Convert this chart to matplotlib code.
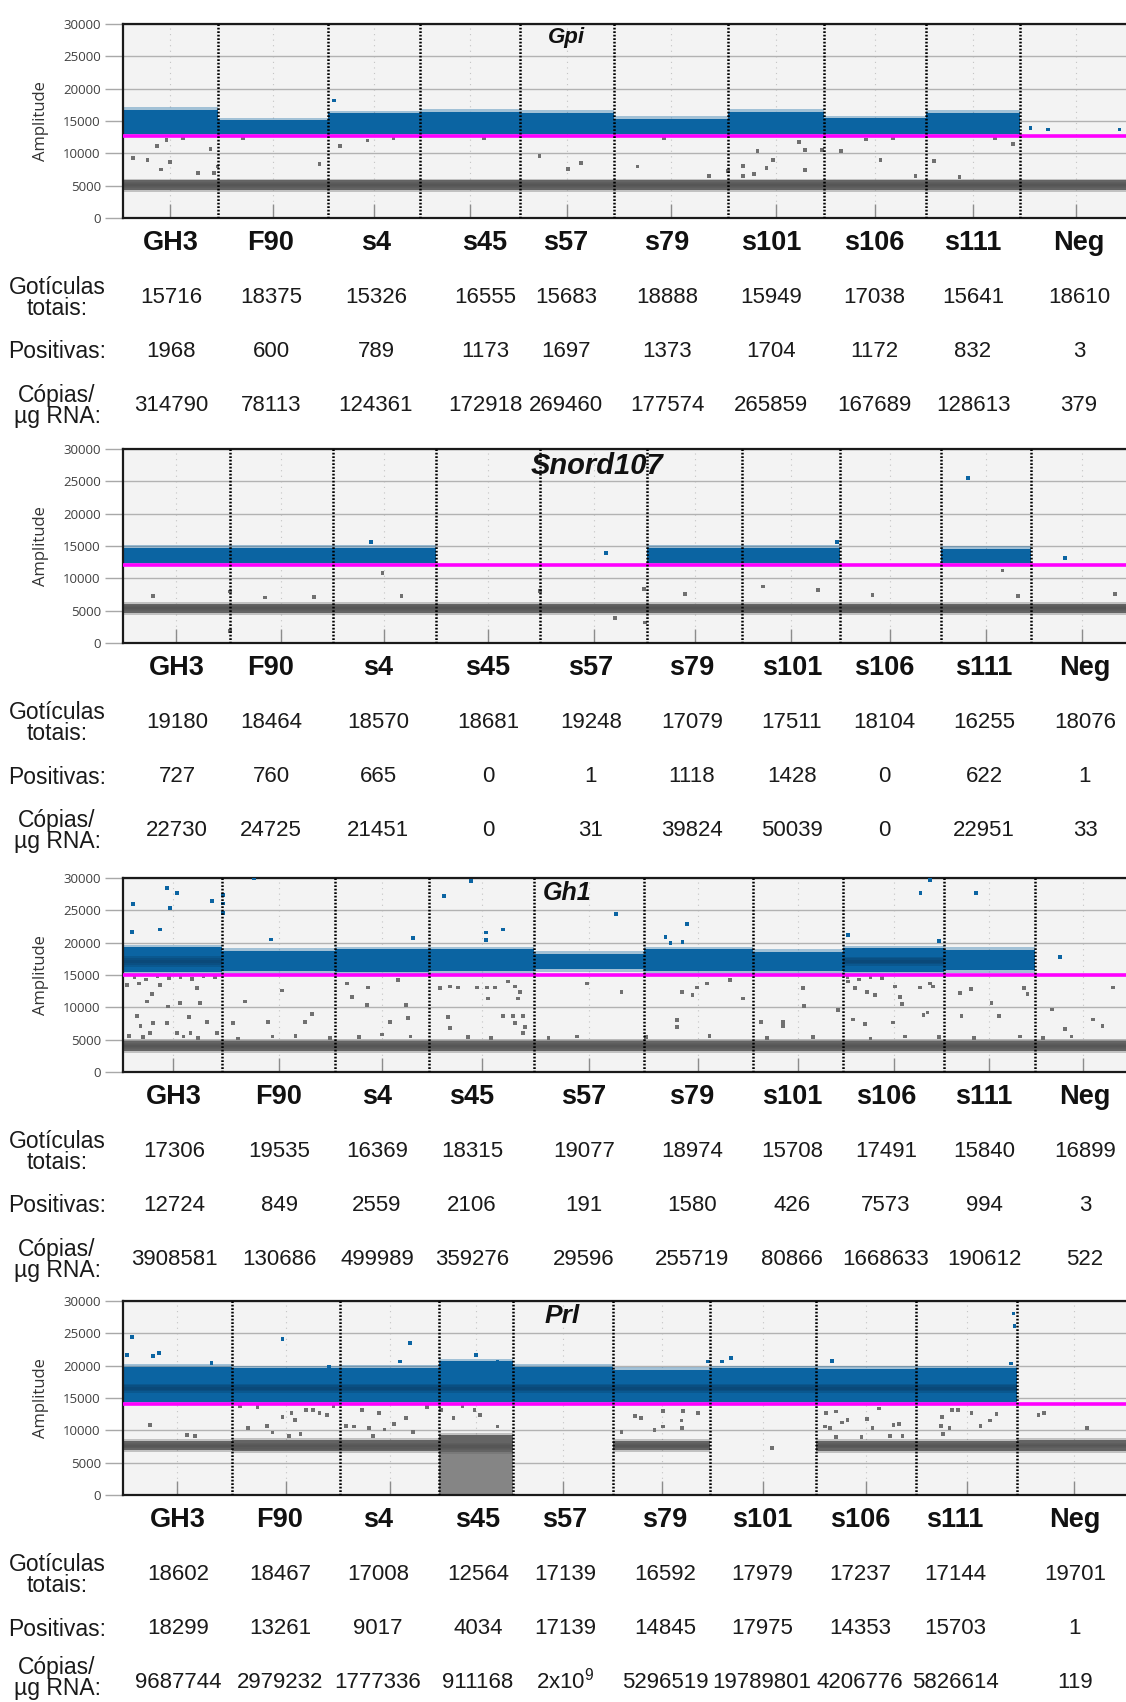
import numpy as np
import matplotlib
matplotlib.use("Agg")
import matplotlib.pyplot as plt

# ---------------------------------------------------------------------------
# ddPCR 1D amplitude plots + droplet counts for four assays
# ---------------------------------------------------------------------------
wells = ["GH3", "F90", "s4", "s45", "s57", "s79", "s101", "s106", "s111", "Neg"]

# ---- Gpi -------------------------------------------------------------------
gpi_total = [15716, 18375, 15326, 16555, 15683, 18888, 15949, 17038, 15641, 18610]
gpi_positive = [1968, 600, 789, 1173, 1697, 1373, 1704, 1172, 832, 3]
gpi_copies = [314790, 78113, 124361, 172918, 269460, 177574, 265859, 167689, 128613, 379]
gpi_threshold = 12700
gpi_pos_low = [13000, 13000, 13000, 13000, 13000, 13000, 13000, 13000, 13000, None]
gpi_pos_high = [16700, 15100, 16200, 16400, 16300, 15300, 16400, 15400, 16300, None]
gpi_pos_core = [None] * 10
gpi_neg_low = [4300] * 10
gpi_neg_high = [5800] * 10
gpi_neg_core = [(4600, 5500)] * 10
gpi_smear = [None] * 10
gpi_out_event = [1690, 4050, 5640, 6280, 7870, 7230, 12510, 14550, 15180, 15690, 32690,
                 36050, 40640, 69270, 74040, 76140, 85530, 97390, 100630, 103070, 103070,
                 104900, 105520, 107030, 108140, 112400, 113450, 113450, 116210, 119380,
                 123540, 125970, 131770, 134830, 139100, 147970, 10000, 20000, 45000,
                 60000, 90000, 128000, 145000, 35040, 150900, 153780, 165690]
gpi_out_amp = [9230, 8970, 11130, 7520, 8710, 12060, 7010, 10620, 7010, 7940, 8350,
               11130, 11960, 9590, 7570, 8500, 7940, 6500, 7320, 8040, 6500,
               6800, 10410, 7680, 8970, 11800, 10510, 7420, 10510, 10410,
               12160, 8970, 6500, 8810, 6290, 11400, 12300, 12400, 12350,
               12400, 12300, 12400, 12300, 18170, 13960, 13700, 13700]

# ---- Snord107 --------------------------------------------------------------
snord_total = [19180, 18464, 18570, 18681, 19248, 17079, 17511, 18104, 16255, 18076]
snord_positive = [727, 760, 665, 0, 1, 1118, 1428, 0, 622, 1]
snord_copies = [22730, 24725, 21451, 0, 31, 39824, 50039, 0, 22951, 33]
snord_threshold = 12000
snord_pos_low = [12400, 12400, 12400, None, None, 12400, 12400, None, 12400, None]
snord_pos_high = [14700, 14700, 14700, None, None, 14700, 14700, None, 14600, None]
snord_pos_core = [None] * 10
snord_neg_low = [4700] * 10
snord_neg_high = [6100] * 10
snord_neg_core = [(5000, 5800)] * 10
snord_smear = [None] * 10
snord_out_event = [46620, 5440, 19210, 19210, 25490, 34290, 50030, 74870, 88330, 93540,
                   93720, 100900, 114950, 124830, 134600, 157930, 160730, 178100,
                   86710, 169120, 44470, 151760, 128240]
snord_out_amp = [10780, 7270, 7940, 1900, 7060, 7110, 7270, 8090, 3820, 8300,
                 3150, 7580, 8730, 8190, 7420, 11190, 7270, 7580,
                 13870, 13100, 15670, 25470, 15670]

# ---- Gh1 -------------------------------------------------------------------
gh1_total = [17306, 19535, 16369, 18315, 19077, 18974, 15708, 17491, 15840, 16899]
gh1_positive = [12724, 849, 2559, 2106, 191, 1580, 426, 7573, 994, 3]
gh1_copies = [3908581, 130686, 499989, 359276, 29596, 255719, 80866, 1668633, 190612, 522]
gh1_threshold = 15000
gh1_pos_low = [15400, 15600, 15500, 15600, 15900, 15600, 15600, 15400, 15700, None]
gh1_pos_high = [19300, 18700, 19000, 19000, 18300, 19000, 18600, 19100, 18900, None]
gh1_pos_core = [(16300, 17900), None, None, None, None, None, None, (16400, 17800), None, None]
gh1_neg_low = [3300] * 10
gh1_neg_high = [4800] * 10
gh1_neg_core = [(3600, 4500)] * 10
gh1_smear = [None] * 10
gh1_out_event = [1690, 7600, 9450, 8180, 1620, 6440, 15430, 17340, 17340, 17340, 22780,
                 55840, 60480, 63090, 63090, 66050, 50500, 25690, 85750, 98150, 94370,
                 95240, 97330, 138740, 140360, 148360, 126160, 162990, 141990,
                 750, 2840, 4990, 6440, 4120, 7880, 9910, 13390, 12820, 2380, 5270,
                 11530, 14560, 7600, 3060, 4700, 9450, 11760, 16300, 19190, 21220,
                 27600, 25270, 31660, 32820, 38910, 42670, 39780, 42390, 47890, 49230,
                 46440, 49630, 55140, 56880, 58320, 61520, 63260, 64710, 63540, 68760,
                 67020, 68180, 69050, 56570, 66050, 67890, 69630, 68180, 56880, 69920,
                 69630, 80760, 86740, 97180, 99090, 99890, 101530, 105580, 107790,
                 96310, 96310, 118230, 118460, 114750, 114750, 111010, 124420, 126160,
                 127330, 129360, 130810, 127040, 134280, 135150, 135450, 138640, 140370,
                 140840, 139230, 139930, 133990, 129070, 145590, 147450, 145880, 152430,
                 151100, 156730, 157310, 161550, 172260, 168780, 170410, 163850,
                 2000, 4000, 6000, 8000, 10000, 12000, 14000, 16000, 126000, 128000,
                 130000, 132000,
                 1000, 3500, 10500, 13000, 20000, 26000, 30000, 36000, 41000, 45000,
                 50000, 60000, 64000, 74000, 79000, 91000, 102000, 112000, 120000,
                 130000, 136000, 142000, 148000, 156000, 160000, 165000]
gh1_out_amp = [25980, 28410, 27630, 25310, 21700, 22060, 26490, 27370, 26080, 24540, 29900,
               27210, 29580, 21550, 20410, 22060, 20670, 20510, 24430, 22890, 20920,
               19990, 20150, 27730, 29690, 27630, 21190, 17740, 20300,
               13450, 13710, 12060, 13450, 10880, 10110, 10620, 10620, 12940, 8660, 7530,
               8550, 7780, 7530, 7110, 6080, 6080, 6080, 5980, 7530, 10880,
               12580, 7780, 7780, 8970, 13710, 13090, 11640, 10360, 14230, 10360,
               7780, 8300, 12940, 13210, 13090, 13090, 13090, 13090, 11380, 11380,
               13970, 13210, 12420, 8550, 8660, 8660, 8660, 7530, 6760, 7010,
               5980, 13710, 12420, 12420, 11910, 13090, 13710, 14230, 11380,
               8040, 7010, 12940, 10210, 7780, 7110, 7780, 9590, 13970,
               12940, 12420, 11910, 8140, 13200, 11640, 10510, 13090, 13710,
               13200, 8820, 9180, 7630, 7420, 12170, 12790, 8660, 8660,
               10620, 12940, 12060, 9690, 13090, 8140, 7110, 6650,
               14600, 14300, 14800, 14500, 14700, 14400, 14800, 14600, 14600, 14300,
               14700, 14500,
               5600, 5400, 5500, 5300, 5200, 5500, 5600, 5300, 5400, 5800,
               5500, 5400, 5300, 5300, 5500, 5400, 5600, 5300, 5400,
               5200, 5500, 5400, 5300, 5500, 5300, 5500]

# ---- Prl -------------------------------------------------------------------
prl_total = [18602, 18467, 17008, 12564, 17139, 16592, 17979, 17237, 17144, 19701]
prl_positive = [18299, 13261, 9017, 4034, 17139, 14845, 17975, 14353, 15703, 1]
prl_copies = [9687744, 2979232, 1777336, 911168, 2e9, 5296519, 19789801, 4206776, 5826614, 119]
prl_threshold = 14000
prl_pos_low = [14400, 14400, 14400, 14400, 14400, 14400, 14400, 14400, 14400, None]
prl_pos_high = [19800, 19600, 19700, 20700, 19800, 19400, 19600, 19500, 19600, None]
prl_pos_core = [(15800, 17200)] * 9 + [None]
prl_neg_low = [6900, 6800, 6800, 6700, None, 6900, None, 6800, 6800, 6800]
prl_neg_high = [8400, 8500, 8500, 9300, None, 8300, None, 8400, 8400, 8500]
prl_neg_core = [(7200, 8000), (7000, 8100), (7000, 8100), (6900, 8100), None,
                (7200, 8000), None, (7200, 8000), (7200, 8000), (7200, 8100)]
prl_smear = [None, None, None, (0, 6700), None, None, None, None, None, None]
prl_out_event = [1540, 680, 5130, 6120, 15140, 27240, 35220, 47320, 49080, 60270, 64000,
                 99970, 102340, 103850, 121170, 152190, 152370, 151740,
                 4610, 10900, 12340, 21360, 24630, 25540, 27240, 28810, 29340, 31300,
                 32470, 33590, 34890, 28360, 30310, 38160, 39480, 40790, 42090, 43730,
                 44700, 46340, 48310, 42740, 49610, 54320, 56470, 60080, 61050, 64000,
                 85200, 87520, 88530, 90850, 92310, 92310, 95440, 95690, 95570, 98280,
                 110950, 120180, 121800, 119930, 120820, 122890, 121800, 123830, 126200,
                 127090, 128080, 129150, 131660, 132600, 133240, 131040, 140020, 141710,
                 142650, 145030, 139830, 141260, 140140, 146550, 148170, 149250, 156460,
                 157400, 164750, 20000, 23000, 36000, 52000, 58000]
prl_out_amp = [24390, 21650, 21500, 22010, 20460, 24080, 19840, 20620, 23550, 21650, 20620,
               20620, 20620, 21140, 20770, 28090, 26130, 20360,
               10820, 9280, 9120, 10310, 10670, 9640, 12110, 12630, 11600, 13150,
               13150, 12730, 12370, 9120, 9480, 10670, 10570, 13150, 10310, 12630,
               10150, 11000, 11860, 9120, 9790, 13150, 11860, 13150, 12370, 10570,
               9790, 12220, 11860, 10050, 10570, 13040, 11500, 13040, 10310, 12730,
               7220, 12730, 12890, 10570, 10310, 11190, 9020, 11600, 8920,
               11710, 10310, 13400, 10820, 11000, 9120, 9120, 12110, 13150,
               13150, 12630, 10670, 10310, 9430, 10670, 11500, 12530, 12370,
               12630, 10310, 13700, 13600, 13700, 13600, 13700]

# ---------------------------------------------------------------------------
# Styling / layout
# ---------------------------------------------------------------------------
W, H, DPI = 1126, 1702, 100
BLUE = "#0b64a2"
BLUE_CORE = "#0a3d66"
GRAY = "#646464"
GRAY_CORE = "#4a4a4a"
SMEAR_GRAY = "#858585"
RAIN_GRAY = "#707070"
MAGENTA = "#ff00ff"
PLOT_BG = "#f3f3f3"
AX_LEFT, AX_RIGHT = 123, 1132

plt.rcParams["font.family"] = ["Liberation Sans", "DejaVu Sans"]
plt.rcParams["mathtext.fontset"] = "custom"
plt.rcParams["mathtext.rm"] = "Liberation Sans"
plt.rcParams["mathtext.it"] = "Liberation Sans:italic"
plt.rcParams["mathtext.bf"] = "Liberation Sans:bold"

panels = [
    dict(name="Gpi", top=24, bottom=218, title_x=566, title_size=16,
         cols=[171, 271, 376, 485, 566, 667, 771, 874, 973, 1079],
         total=gpi_total, positive=gpi_positive, copies=gpi_copies,
         threshold=gpi_threshold, pos_low=gpi_pos_low, pos_high=gpi_pos_high,
         pos_core=gpi_pos_core, neg_low=gpi_neg_low, neg_high=gpi_neg_high,
         neg_core=gpi_neg_core, smear=gpi_smear,
         out_event=gpi_out_event, out_amp=gpi_out_amp),
    dict(name="Snord107", top=449, bottom=643, title_x=597, title_size=21,
         cols=[177, 271, 378, 488, 591, 692, 792, 884, 984, 1085],
         total=snord_total, positive=snord_positive, copies=snord_copies,
         threshold=snord_threshold, pos_low=snord_pos_low, pos_high=snord_pos_high,
         pos_core=snord_pos_core, neg_low=snord_neg_low, neg_high=snord_neg_high,
         neg_core=snord_neg_core, smear=snord_smear,
         out_event=snord_out_event, out_amp=snord_out_amp),
    dict(name="Gh1", top=878, bottom=1072, title_x=567, title_size=18,
         cols=[174, 279, 377, 472, 584, 692, 792, 886, 984, 1085],
         total=gh1_total, positive=gh1_positive, copies=gh1_copies,
         threshold=gh1_threshold, pos_low=gh1_pos_low, pos_high=gh1_pos_high,
         pos_core=gh1_pos_core, neg_low=gh1_neg_low, neg_high=gh1_neg_high,
         neg_core=gh1_neg_core, smear=gh1_smear,
         out_event=gh1_out_event, out_amp=gh1_out_amp),
    dict(name="Prl", top=1301, bottom=1495, title_x=562, title_size=19,
         cols=[178, 280, 378, 478, 565, 665, 762, 860, 955, 1075],
         total=prl_total, positive=prl_positive, copies=prl_copies,
         threshold=prl_threshold, pos_low=prl_pos_low, pos_high=prl_pos_high,
         pos_core=prl_pos_core, neg_low=prl_neg_low, neg_high=prl_neg_high,
         neg_core=prl_neg_core, smear=prl_smear,
         out_event=prl_out_event, out_amp=prl_out_amp),
]


def fx(px):
    return px / W


def fy(py):
    return 1 - py / H


def fmt_copies(v):
    if v >= 1e9:
        exp = int(np.floor(np.log10(v)))
        mant = v / 10 ** exp
        return f"{mant:g}x10$^{{{exp}}}$"
    return f"{int(v)}"


def draw_band(ax, x0, width, lo, hi, color, fringe):
    ax.bar(x0, hi - lo, bottom=lo, width=width, align="edge", color=color,
           linewidth=0, zorder=2)
    # soft ragged edge above/below the dense part of the cluster
    ax.bar(x0, fringe, bottom=hi, width=width, align="edge", color=color,
           alpha=0.35, linewidth=0, zorder=2)
    ax.bar(x0, fringe, bottom=lo - fringe, width=width, align="edge", color=color,
           alpha=0.35, linewidth=0, zorder=2)


def draw_core(ax, x0, width, lo, hi, color, alpha):
    # graded darker centre of a droplet cluster
    mid = (lo + hi) / 2
    for frac in (1.0, 0.66, 0.33):
        half = (hi - lo) / 2 * frac
        ax.bar(x0, 2 * half, bottom=mid - half, width=width, align="edge",
               color=color, alpha=alpha, linewidth=0, zorder=2)


fig = plt.figure(figsize=(W / DPI, H / DPI), dpi=DPI)
fig.patch.set_facecolor("white")

for p in panels:
    total = np.array(p["total"], dtype=float)
    edges = np.concatenate([[0.0], np.cumsum(total)])
    centers = (edges[:-1] + edges[1:]) / 2
    widths = np.diff(edges)

    ax = fig.add_axes([fx(AX_LEFT), fy(p["bottom"]), fx(AX_RIGHT - AX_LEFT),
                       (p["bottom"] - p["top"]) / H])
    ax.set_facecolor(PLOT_BG)
    ax.set_xlim(0, edges[-1])
    ax.set_ylim(0, 30000)

    # grid
    ax.set_yticks(np.arange(0, 30001, 5000))
    ax.grid(axis="y", color="#b2b2b2", linewidth=1.0, zorder=0)
    ax.set_xticks(centers)
    ax.grid(axis="x", color="#c4c4c4", linewidth=0.8, linestyle=(0, (1, 4)), zorder=0)
    ax.set_axisbelow(True)

    # droplet clusters
    for i in range(len(total)):
        if p["smear"][i] is not None:
            slo, shi = p["smear"][i]
            ax.bar(edges[i], shi - slo, bottom=slo, width=widths[i], align="edge",
                   color=SMEAR_GRAY, linewidth=0, zorder=2)
        if p["neg_low"][i] is not None:
            draw_band(ax, edges[i], widths[i], p["neg_low"][i], p["neg_high"][i],
                      GRAY, 300)
            if p["neg_core"][i] is not None:
                clo, chi = p["neg_core"][i]
                draw_core(ax, edges[i], widths[i], clo, chi, GRAY_CORE, 0.2)
        if p["pos_low"][i] is not None:
            draw_band(ax, edges[i], widths[i], p["pos_low"][i], p["pos_high"][i],
                      BLUE, 400)
            if p["pos_core"][i] is not None:
                clo, chi = p["pos_core"][i]
                draw_core(ax, edges[i], widths[i], clo, chi, BLUE_CORE, 0.3)

    # isolated droplets (rain), coloured by the threshold call
    ev = np.array(p["out_event"], dtype=float)
    amp = np.array(p["out_amp"], dtype=float)
    cols = np.where(amp > p["threshold"], BLUE, RAIN_GRAY)
    ax.scatter(ev, amp, s=7, marker="s", c=cols, linewidths=0, zorder=3)

    # threshold and well separators
    ax.axhline(p["threshold"], color=MAGENTA, linewidth=2.6, zorder=4)
    for e in edges[1:-1]:
        ax.axvline(e, color="black", linewidth=1.8, linestyle=(0, (0.7, 0.7)), zorder=5)

    # axes cosmetics
    for side in ("top", "left", "bottom"):
        ax.spines[side].set_color("#1a1a1a")
        ax.spines[side].set_linewidth(1.6)
    ax.spines["right"].set_visible(False)
    ax.tick_params(axis="x", direction="in", length=10, width=1, color="#8c8c8c",
                   labelbottom=False)
    ax.tick_params(axis="y", direction="out", length=13, width=1, color="#a8a8a8",
                   labelsize=9.5, labelcolor="#404040", pad=3)
    for lab in ax.get_yticklabels():
        lab.set_fontfamily(["Open Sans", "DejaVu Sans"])
    ax.set_ylabel("Amplitude", fontsize=12, color="#333333",
                  fontfamily=["Open Sans", "DejaVu Sans"], labelpad=10)

    # assay name inside the plot
    fig.text(fx(p["title_x"]), fy(p["top"] + 3), p["name"], ha="center", va="top",
             fontsize=p["title_size"], fontweight="bold", fontstyle="italic",
             color="#111111")

    # table below the plot (values placed on a common baseline)
    b = p["bottom"]
    y_head, y_tot, y_pos, y_cop = b + 25, b + 80, b + 134, b + 188
    base = 5
    for j, w in enumerate(wells):
        x = fx(p["cols"][j])
        fig.text(x, fy(y_head), w, ha="center", va="center", fontsize=19.5,
                 fontweight="bold", color="#111111")
        fig.text(x, fy(y_tot + base), f"{p['total'][j]}", ha="center", va="baseline",
                 fontsize=16, color="#1a1a1a")
        fig.text(x, fy(y_pos + base), f"{p['positive'][j]}", ha="center", va="baseline",
                 fontsize=16, color="#1a1a1a")
        fig.text(x, fy(y_cop + base), fmt_copies(p["copies"][j]), ha="center",
                 va="baseline", fontsize=16, color="#1a1a1a")
    fig.text(fx(57), fy(y_tot), "Gotículas\ntotais:", ha="center", va="center",
             fontsize=16.5, color="#1a1a1a", linespacing=0.92)
    fig.text(fx(57), fy(y_pos), "Positivas:", ha="center", va="center",
             fontsize=16.5, color="#1a1a1a")
    fig.text(fx(57), fy(min(y_cop, H - 24)), "Cópias/\nµg RNA:", ha="center",
             va="center", fontsize=16.5, color="#1a1a1a", linespacing=0.92)

fig.savefig("out.png", dpi=DPI, facecolor="white")
